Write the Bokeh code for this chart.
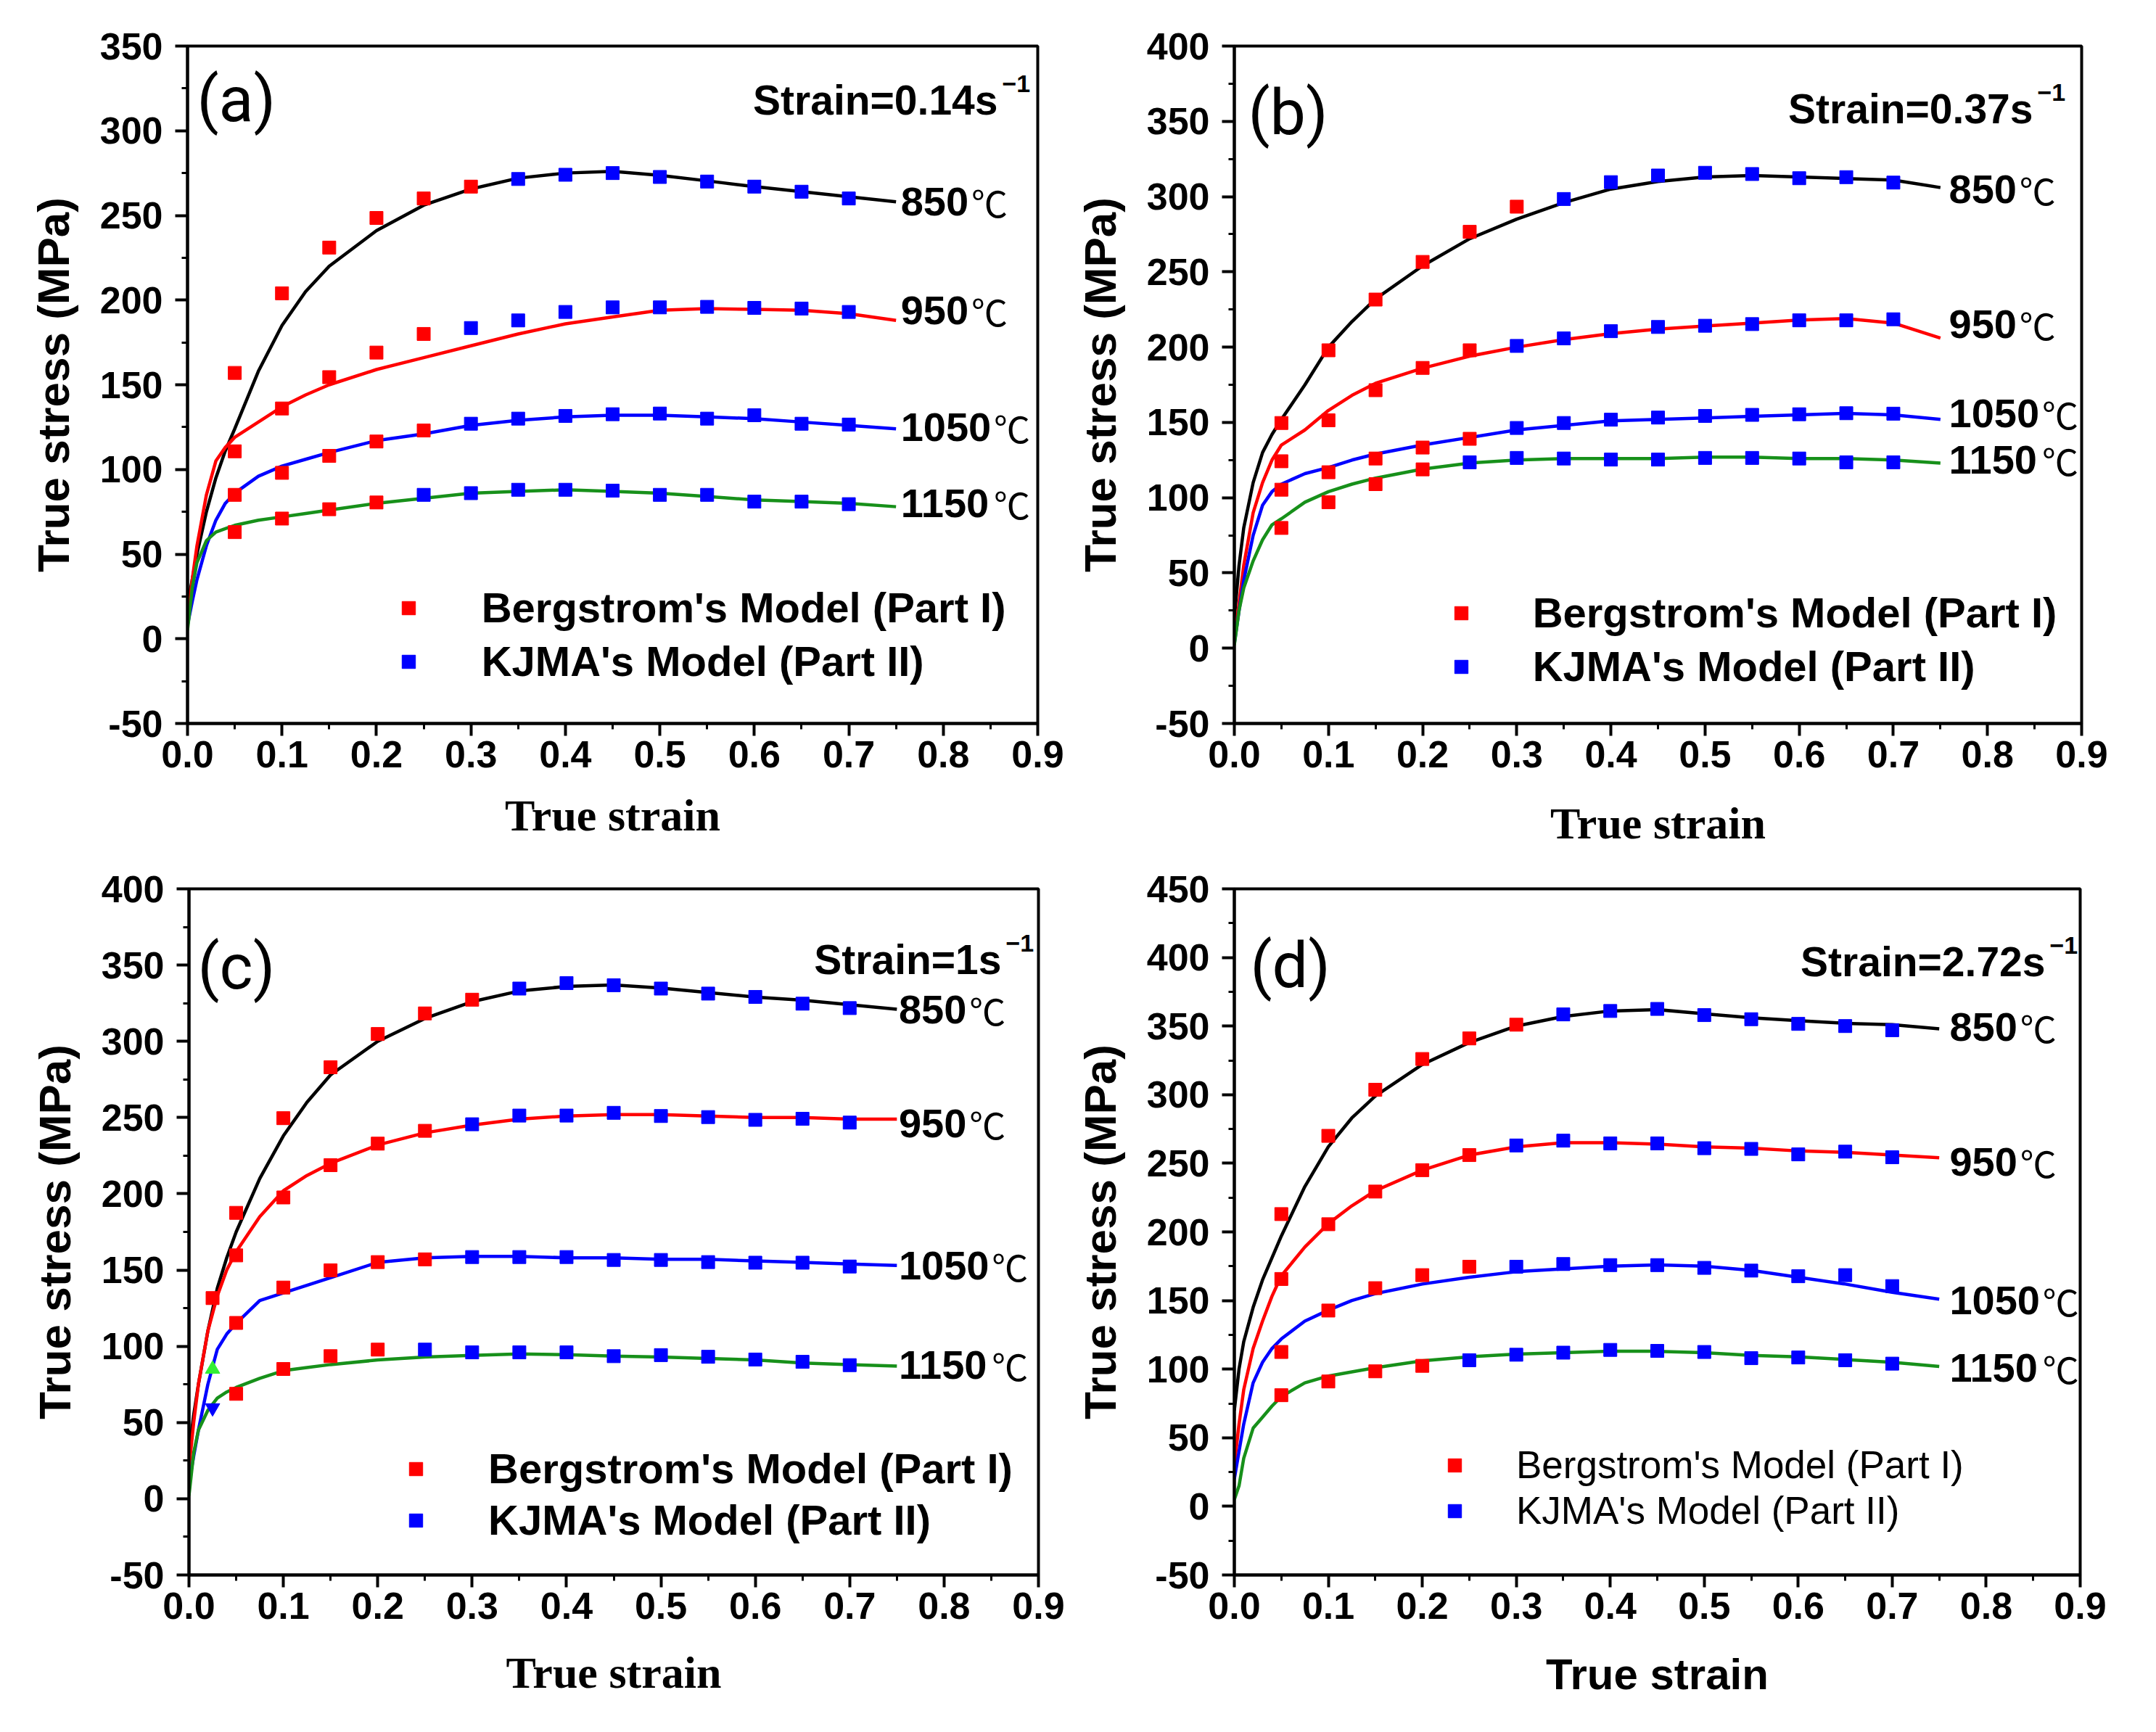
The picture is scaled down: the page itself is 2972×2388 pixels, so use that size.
from bokeh.plotting import figure
from bokeh.layouts import column, row
from bokeh.models import (Range1d, FixedTicker, NumeralTickFormatter, Label,
                          Legend, LegendItem)
from bokeh.core.properties import value
from bokeh.embed import file_html
from bokeh.resources import INLINE

SANS = "Liberation Sans"
SERIF = "Liberation Serif"

# ---------------- data ----------------
temps = ["850", "950", "1050", "1150"]
line_colors = ["#000000", "#FF0000", "#0000FF", "#17901A"]

strain_curve = [0.0, 0.005, 0.01, 0.02, 0.03, 0.04, 0.05, 0.075, 0.1, 0.125, 0.15,
                0.2, 0.25, 0.3, 0.35, 0.4, 0.45, 0.5, 0.55, 0.6, 0.65, 0.7, 0.75]
strain_points = [0.05, 0.10, 0.15, 0.20, 0.25, 0.30, 0.35, 0.40, 0.45, 0.50,
                 0.55, 0.60, 0.65, 0.70]
# number of leading points that belong to Bergstrom's model (Part I) per temperature
n_bergstrom = [6, 5, 5, 4]

# (a) 0.14 s^-1
a_curve_850 = [20, 35, 50, 75, 95, 111, 124, 158, 185, 205, 220, 241, 256, 265.6, 272, 275, 276, 273.7, 270.4, 267, 264, 261, 258]
a_curve_950 = [10, 35, 55, 85, 105, 113, 119, 128, 137, 144, 150, 159, 166, 173, 180, 186, 190, 194, 195, 194.5, 194, 192, 188]
a_curve_1050 = [8, 22, 35, 55, 70, 80, 86, 96, 102, 106, 110, 117, 121, 126, 129, 131, 132, 132, 131, 130, 128, 126, 124]
a_curve_1150 = [5, 30, 45, 58, 63, 65, 67, 70, 72, 74, 76, 80, 83, 86, 87, 88, 87, 86, 84, 82, 81, 80, 78]
a_pts_850 = [157, 204, 231, 248.5, 260, 267, 271.5, 274, 275, 272.7, 270, 267, 264, 260]
a_pts_950 = [110.7, 136, 154.5, 169, 180, 183.5, 188, 193, 195.7, 195.7, 196, 195.4, 195, 193]
a_pts_1050 = [85, 98, 108, 116.5, 123, 127, 130, 131.6, 132.6, 133, 130, 132, 127, 126.5]
a_pts_1150 = [63, 71, 76.5, 80.5, 85, 86, 88, 88, 87.5, 85, 85, 81, 81, 79.5]

# (b) 0.37 s^-1
b_curve_850 = [20, 55, 80, 110, 130, 142, 152, 175, 200, 217, 232, 254, 272, 285, 296, 305, 310, 313, 314, 313, 312, 311, 306]
b_curve_950 = [5, 30, 55, 90, 110, 125, 135, 145, 158, 168, 176, 186, 194, 200, 205, 209, 212, 214, 216, 218, 219, 216, 206]
b_curve_1050 = [3, 25, 45, 75, 95, 104, 109, 116, 120, 125, 129, 135, 140, 145, 148, 151, 152, 153, 154, 155, 156, 155, 152]
b_curve_1150 = [2, 25, 40, 58, 72, 82, 86, 97, 104, 109, 113, 119, 123, 125, 126, 126, 126, 127, 127, 126, 126, 125, 123]
b_pts_850 = [149.6, 197.9, 231.6, 256.6, 276.6, 293.3, 298.4, 309.6, 314, 315.8, 315, 312.2, 312.9, 309.3]
b_pts_950 = [124.2, 151.4, 171.4, 186.2, 197.9, 200.8, 205.8, 210.6, 213.4, 214.2, 215.3, 217.8, 217.8, 218.5]
b_pts_1050 = [105.3, 116.9, 126, 133.3, 139.1, 146.3, 149.6, 151.8, 153.2, 154.3, 155, 155.4, 156.1, 155.8]
b_pts_1150 = [79.9, 97, 109, 118.8, 123.5, 126.4, 126, 125.3, 125.3, 126.4, 126.4, 126, 123.5, 123.5]

# (c) 1 s^-1
c_curve_850 = [30, 55, 75, 110, 138, 158, 175, 210, 238, 260, 278, 300, 315, 326, 333, 336, 337, 335, 332, 329, 327, 324, 321]
c_curve_950 = [20, 50, 75, 110, 133, 150, 162, 185, 202, 212, 220, 232, 240, 245, 249, 251, 252, 252, 251, 250, 250, 249, 249]
c_curve_1050 = [10, 28, 45, 75, 98, 108, 115, 130, 135, 140, 145, 155, 158, 159, 159, 158, 158, 157, 157, 156, 155, 154, 153]
c_curve_1150 = [2, 30, 45, 58, 66, 70, 73, 79, 84, 86, 88, 91, 93, 94, 95, 94.5, 93.5, 93, 92, 91, 89, 88, 87]
c_pts_850 = [187.5, 249.6, 283, 304.8, 318.3, 327.3, 334.6, 338.2, 336.8, 334.6, 331.3, 329.1, 324.7, 321.8]
c_pts_950 = [159.6, 197.6, 218.8, 232.9, 241.3, 245.6, 251.3, 251.3, 253.1, 251, 250.3, 248.5, 249.2, 246.7]
c_pts_1050 = [115.3, 138.5, 149.8, 155.2, 157, 158.5, 158.5, 158.5, 156.6, 156.6, 155.2, 154.8, 154.8, 152.3]
c_pts_1150 = [68.8, 85.1, 93.5, 97.8, 97.8, 96, 96, 96, 93.5, 94.2, 93.1, 91.3, 89.8, 87.6]
c_extra_strain = [0.025]
c_extra_red = [131.6]
c_extra_green_tri = [85]
c_extra_blue_tri = [59.6]

# (d) 2.72 s^-1
d_curve_850 = [70, 100, 120, 145, 165, 181, 197, 233, 262, 283, 299, 322, 338, 350, 357, 361, 362, 359, 356, 354, 352, 351, 348]
d_curve_950 = [30, 60, 85, 115, 135, 153, 168, 189, 206, 219, 230, 245, 256, 262, 265, 265, 264, 262, 261, 259, 258, 256, 254]
d_curve_1050 = [20, 40, 60, 90, 105, 115, 122, 135, 143, 150, 155, 162, 167, 171, 173, 175, 176, 175, 172, 167, 162, 156, 151]
d_curve_1150 = [5, 15, 35, 57, 65, 73, 80, 90, 95, 98, 101, 106, 109, 111, 112, 113, 113, 112, 110, 109, 107, 105, 102]
d_pts_850 = [213, 270, 303.6, 326, 341, 351, 358.5, 361, 362.5, 358, 355, 351.6, 350, 347]
d_pts_950 = [165.7, 205.6, 229.4, 245, 256, 263, 266.5, 264.5, 264.5, 261, 260.5, 256.5, 258.5, 254.4]
d_pts_1050 = [112.5, 142.7, 159, 168.5, 174.6, 174.6, 176.6, 175.8, 175.8, 173.8, 171.8, 167.7, 168.5, 160.5]
d_pts_1150 = [81, 91, 98.4, 102.4, 106.5, 110.5, 112, 114, 113.3, 112.5, 108, 108.5, 106.5, 104]

x_ticks = [0.0, 0.1, 0.2, 0.3, 0.4, 0.5, 0.6, 0.7, 0.8, 0.9]
legend_labels = ["Bergstrom's Model (Part I)", "KJMA's Model (Part II)"]

# ---------------- layout ----------------
W = 1478
panels = [
    dict(H=1194, ymax=350, border=(258, 48, 63, 182), letter="(a)", letter_pos=(13, 88),
         rate="Strain=0.14s", rate_pos=(55, 89), xfont=SERIF, xstand=29, ystand=27,
         curves=[a_curve_850, a_curve_950, a_curve_1050, a_curve_1150],
         pts=[a_pts_850, a_pts_950, a_pts_1050, a_pts_1150],
         label_x=0.755, label_y=[258, 194, 125, 80], legend=(0.234, 0.312, 17.5, -14),
         leg_font=("58px", "bold"), ih=68),
    dict(H=1194, ymax=400, border=(221, 87, 52, 197), letter="(b)", letter_pos=(19, 102),
         rate="Strain=0.37s", rate_pos=(69, 97), xfont=SERIF, xstand=40, ystand=27,
         curves=[b_curve_850, b_curve_950, b_curve_1050, b_curve_1150],
         pts=[b_pts_850, b_pts_950, b_pts_1050, b_pts_1150],
         label_x=0.759, label_y=[305, 215, 156, 125], legend=(0.2405, 0.317, 22.6, -12.7),
         leg_font=("58px", "bold"), ih=68),
    dict(H=1178, ymax=400, border=(260, 47, 31, 201), letter="(c)", letter_pos=(12, 107),
         rate="Strain=1s", rate_pos=(51, 97), xfont=SERIF, xstand=37, ystand=27,
         curves=[c_curve_850, c_curve_950, c_curve_1050, c_curve_1150],
         pts=[c_pts_850, c_pts_950, c_pts_1050, c_pts_1150],
         label_x=0.752, label_y=[321, 246, 153, 87.5], legend=(0.2406, 0.318, 19.3, -14.4),
         leg_font=("58px", "bold"), ih=66),
    dict(H=1178, ymax=450, border=(218, 89, 31, 199), letter="(d)", letter_pos=(22, 107),
         rate="Strain=2.72s", rate_pos=(53, 102), xfont=SANS, xstand=40, ystand=27,
         curves=[d_curve_850, d_curve_950, d_curve_1050, d_curve_1150],
         pts=[d_pts_850, d_pts_950, d_pts_1050, d_pts_1150],
         label_x=0.761, label_y=[349.5, 251, 150, 101], legend=(0.2336, 0.299, 29.6, -3.6),
         leg_font=("53px", "normal"), ih=60),
]


def make_panel(i, spec):
    H = spec["H"]
    l, r, t, b = spec["border"]
    fw, fh = W - l - r, H - t - b
    ymax = spec["ymax"]
    p = figure(width=W, height=H, x_range=Range1d(0, 0.9), y_range=Range1d(-50, ymax),
               output_backend="svg", toolbar_location=None,
               min_border_left=l, min_border_right=r, min_border_top=t, min_border_bottom=b)
    p.grid.visible = False
    p.outline_line_color = "black"
    p.outline_line_width = 4
    p.background_fill_color = "white"
    p.border_fill_color = "white"

    yt = list(range(-50, ymax + 1, 50))
    p.yaxis.ticker = FixedTicker(ticks=yt, minor_ticks=[v + 25 for v in yt[:-1]])
    p.yaxis.major_label_overrides = {v: str(v) for v in yt}
    p.xaxis.ticker = FixedTicker(ticks=x_ticks, minor_ticks=[v + 0.05 for v in x_ticks[:-1]])
    p.xaxis.formatter = NumeralTickFormatter(format="0.0")
    for ax in (p.xaxis[0], p.yaxis[0]):
        ax.axis_line_width = 4
        ax.major_tick_line_width = 4
        ax.minor_tick_line_width = 3
        ax.major_tick_in = 0
        ax.major_tick_out = 17
        ax.minor_tick_in = 0
        ax.minor_tick_out = 8
        ax.major_label_text_font = SANS
        ax.major_label_text_font_style = "bold"
        ax.major_label_text_font_size = "52px"
        ax.major_label_text_color = "black"
        ax.axis_label_text_font_style = "bold"
        ax.axis_label_text_color = "black"
    p.yaxis.major_label_standoff = 17
    p.xaxis.major_label_standoff = 7
    p.yaxis.axis_label = "True stress (MPa)"
    p.yaxis.axis_label_text_font = SANS
    p.yaxis.axis_label_text_font_size = "62px"
    p.yaxis.axis_label_standoff = spec["ystand"]
    p.xaxis.axis_label = "True strain"
    p.xaxis.axis_label_text_font = spec["xfont"]
    p.xaxis.axis_label_text_font_size = "62px" if spec["xfont"] == SERIF else "60px"
    p.xaxis.axis_label_standoff = spec["xstand"]

    for curve, color in zip(spec["curves"], line_colors):
        p.line(strain_curve, curve, line_color=color, line_width=4.5)

    red_x, red_y, blue_x, blue_y = [], [], [], []
    for pts, n in zip(spec["pts"], n_bergstrom):
        red_x += strain_points[:n]
        red_y += pts[:n]
        blue_x += strain_points[n:]
        blue_y += pts[n:]
    if i == 2:
        red_x += c_extra_strain
        red_y += c_extra_red
        p.scatter(c_extra_strain, c_extra_green_tri, marker="triangle", size=20, color="#33EE33")
        p.scatter(c_extra_strain, c_extra_blue_tri, marker="inverted_triangle", size=20, color="#0000FF")
    rr = p.scatter(red_x, red_y, marker="square", size=18, color="#FF0000")
    br = p.scatter(blue_x, blue_y, marker="square", size=18, color="#0000FF")

    # temperature labels
    lx = [spec["label_x"]] * 4
    p.text(x=lx, y=spec["label_y"], text=temps, text_font=value(SANS), text_font_style="bold",
           text_font_size="56px", text_baseline="middle", text_align="left", text_color="black")
    p.text(x=lx, y=spec["label_y"], text=["\u2103"] * 4, text_font=value("Noto Sans CJK SC"),
           text_font_size="50px", text_baseline="middle", text_align="left", text_color="black",
           x_offset=[len(tt) * 31.1 + 4 for tt in temps])

    # legend
    def px(xd):
        return xd / 0.9 * fw

    def py(yd):
        return (yd + 50) / (ymax + 50) * fh

    mx, tx, ry, by = spec["legend"]
    gw, ih = 46, spec["ih"]
    fs, fstyle = spec["leg_font"]
    legend = Legend(items=[LegendItem(label=legend_labels[0], renderers=[rr]),
                           LegendItem(label=legend_labels[1], renderers=[br])],
                    location=(px(mx) - gw / 2, py(by) - ih / 2),
                    orientation="vertical", border_line_color=None, background_fill_alpha=0,
                    padding=0, margin=0, spacing=max(0, int(py(ry) - py(by) - ih)),
                    glyph_width=gw, glyph_height=ih, label_height=ih,
                    label_standoff=int(px(tx) - (px(mx) + gw / 2)),
                    label_text_font=SANS, label_text_font_style=fstyle,
                    label_text_font_size=fs, label_text_color="black")
    p.add_layout(legend)

    # panel letter
    lxp, lyp = spec["letter_pos"]
    p.add_layout(Label(x=lxp, y=fh - lyp, x_units="screen", y_units="screen",
                       text=spec["letter"], text_font="Roboto", text_font_size="88px",
                       text_baseline="alphabetic", text_align="left", text_color="black"))
    # strain rate annotation
    rx, ryp = spec["rate_pos"]
    p.add_layout(Label(x=fw - rx, y=fh - ryp, x_units="screen", y_units="screen",
                       text=spec["rate"], text_font=SANS, text_font_style="bold",
                       text_font_size="57px", text_baseline="alphabetic", text_align="right",
                       text_color="black"))
    p.add_layout(Label(x=fw - rx + 6, y=fh - ryp + 22, x_units="screen", y_units="screen",
                       text="\u22121", text_font=SANS, text_font_style="bold",
                       text_font_size="34px", text_baseline="alphabetic", text_align="left",
                       text_color="black"))
    return p


figs = [make_panel(i, s) for i, s in enumerate(panels)]
layout = column(row(figs[0], figs[1], spacing=0), row(figs[2], figs[3], spacing=0), spacing=0)

open("out.html", "w").write(file_html(layout, INLINE))
